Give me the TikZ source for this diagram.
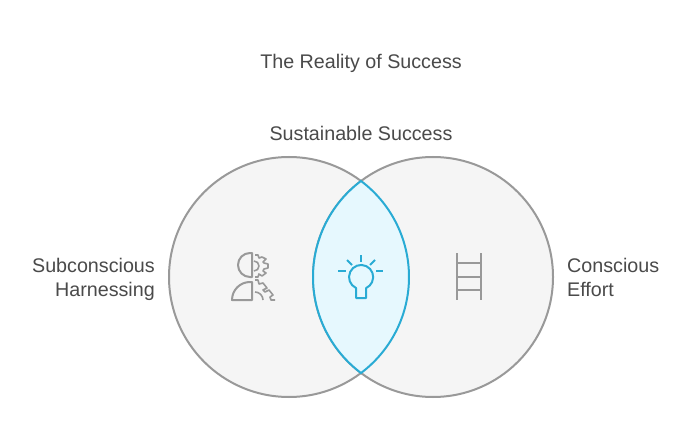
\documentclass[tikz,border=0pt]{standalone}
\usepackage{fontspec}
\setmainfont{Liberation Sans}
\usepackage{tikz}
\definecolor{textgray}{HTML}{4A4A4A}
\definecolor{ringgray}{HTML}{999999}
\definecolor{ringfill}{HTML}{F5F5F5}
\definecolor{lensblue}{HTML}{29ABD4}
\definecolor{lensfill}{HTML}{E6F8FE}
\tikzset{
  label/.style={text=textgray, font=\fontsize{19.7}{24}\selectfont, inner sep=0pt},
  ring/.style={draw=ringgray, fill=ringfill, line width=2pt},
  icon/.style={draw=ringgray, line width=2pt, line join=round},
  gear/.style={draw=ringgray, line width=1.6pt, line join=round},
  bulb/.style={draw=lensblue, line width=2pt}
}

\begin{document}
\begin{tikzpicture}[x=1pt, y=-1pt]
\useasboundingbox (0,0) rectangle (698,446);
\fill[white] (0,0) rectangle (698,446);
\draw[ring] (289,277) circle (120pt);
\draw[ring] (433,277) circle (120pt);
\draw[draw=lensblue, fill=lensfill, line width=2pt] (361,181) arc[start angle=126.87, end angle=233.13, radius=120pt] arc[start angle=-53.13, end angle=53.13, radius=120pt] -- cycle;

\node[label] (title) at (361,63) {The Reality of Success};
\node[label] (top) at (361,133.5) {Sustainable Success};
\node[label, align=right, anchor=east] (left) at (155,279) {Subconscious\\Harnessing};
\node[label, align=left, anchor=west] (right) at (567,277) {Conscious\\Effort};

% left icon
\draw[icon] (252,253) -- (250,253) arc[start angle=90, end angle=270, radius=12pt] -- (252,277) -- cycle;
\draw[icon] (252,282) -- (250,282) arc[start angle=90, end angle=180, radius=18pt] -- (252,300) -- cycle;
\draw[gear] (255,255) -- (258,255) -- (259,258) -- (262,257) -- (266,259) -- (263,262) -- (264,263) -- (268,264) -- (268,268) -- (264,269) -- (263,271) -- (266,273) -- (262,276) -- (259,274) -- (258,277) -- (255,277);
\draw[gear] (254,261) arc[start angle=90, end angle=-90, radius=5pt];
\draw[gear] (255,280) -- (258,280) -- (259,284) -- (263,283) -- (267,288) -- (263,290) -- (265,292) -- (269,290) -- (273,295) -- (270,297) -- (271,300) -- (275,300);
\draw[gear] (255,292) arc[start angle=90, end angle=0, radius=8pt];

% bulb
\draw[bulb, line join=round] (356,298) -- (356,288) arc[start angle=245, end angle=-65, radius=12.08pt] -- (366,298) -- cycle;
\draw[bulb] (361,255) -- (361,262);
\draw[bulb] (347,260) -- (352,265);
\draw[bulb] (375,260) -- (370,265);
\draw[bulb] (338,271) -- (346,271);
\draw[bulb] (376,271) -- (383,271);

% ladder
\draw[icon] (457,253) -- (457,300);
\draw[icon] (481,253) -- (481,300);
\foreach \y in {263,277,290} {
  \draw[icon] (457,\y) -- (481,\y);
}
\end{tikzpicture}
\end{document}
